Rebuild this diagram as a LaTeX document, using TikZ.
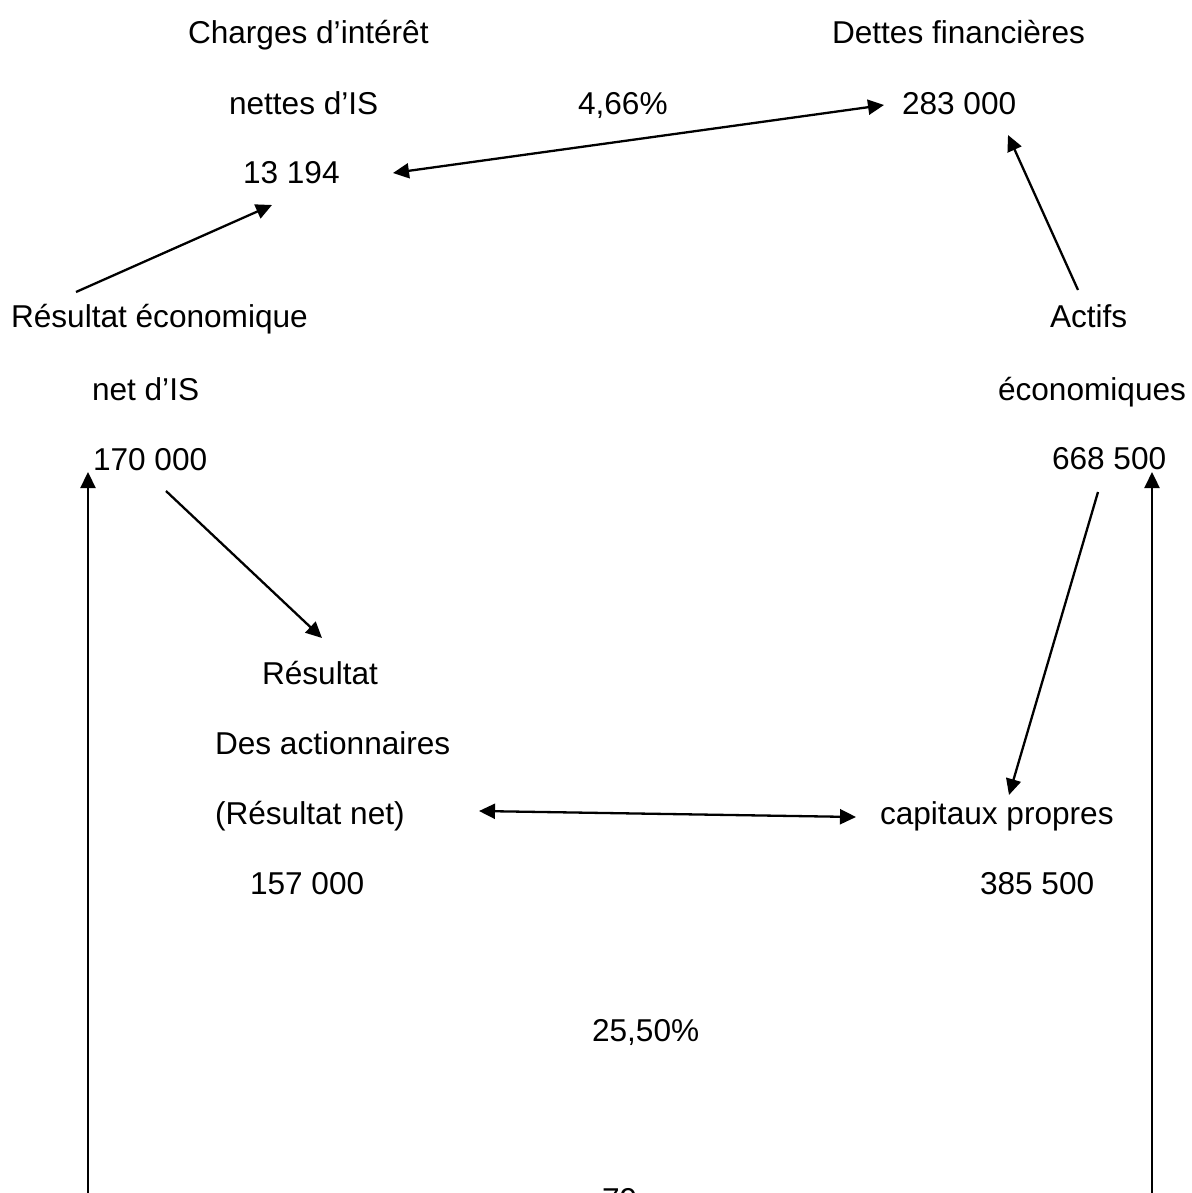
\documentclass[tikz,border=0pt]{standalone}
\usepackage{fontspec}
\setmainfont{Liberation Sans}
\usetikzlibrary{arrows.meta}
\begin{document}
\begin{tikzpicture}[x=0.5pt,y=-0.5pt,
  lbl/.style={anchor=base west,inner sep=0pt,outer sep=0pt,font=\fontsize{15.8}{18}\selectfont},
  conn/.style={line width=1.15pt,-{Triangle[length=8pt,width=7.5pt]}},
  dconn/.style={line width=1.15pt,{Triangle[length=8pt,width=7.5pt]}-{Triangle[length=8pt,width=7.5pt]}}]
\useasboundingbox[fill=white] (0,0) rectangle (1192,1193);
% texts
\node[lbl] (t1) at (188,44) {Charges d’intérêt};
\node[lbl] (t2) at (229,114) {nettes d’IS};
\node[lbl] (t3) at (243,184) {13 194};
\node[lbl] (d1) at (832,44) {Dettes financières};
\node[lbl] (p1) at (578,114) {4,66\%};
\node[lbl] (d2) at (902,114) {283 000};
\node[lbl] (r1) at (11,327) {Résultat économique};
\node[lbl] (r2) at (92,400) {net d’IS};
\node[lbl] (r3) at (93,470) {170 000};
\node[lbl] (a1) at (1050,327) {Actifs};
\node[lbl] (a2) at (998,400) {économiques};
\node[lbl] (a3) at (1052,469) {668 500};
\node[lbl] (n1) at (262,684) {Résultat};
\node[lbl] (n2) at (215,754) {Des actionnaires};
\node[lbl] (n3) at (215,824) {(Résultat net)};
\node[lbl] (n4) at (250,894) {157 000};
\node[lbl] (c1) at (880,824) {capitaux propres};
\node[lbl] (c2) at (980,894) {385 500};
\node[lbl] (p2) at (592,1041) {25,50\%};
\node[lbl] (pg) at (602,1210) {79};
% connector ends
\coordinate (e1a) at (76,292);   \coordinate (e1b) at (272,205);
\coordinate (e2a) at (393,173);  \coordinate (e2b) at (884,105);
\coordinate (e3a) at (1078,290); \coordinate (e3b) at (1008,135);
\coordinate (e4a) at (166,491);  \coordinate (e4b) at (322,638);
\coordinate (e5a) at (1098,492); \coordinate (e5b) at (1009,795);
\coordinate (e6a) at (479,811);  \coordinate (e6b) at (856,817);
\coordinate (v1a) at (88,1205);  \coordinate (v1b) at (88,472);
\coordinate (v2a) at (1152,1205);\coordinate (v2b) at (1152,472);
% connectors
\draw[conn] (e1a) -- (e1b);
\draw[dconn] (e2a) -- (e2b);
\draw[conn] (e3a) -- (e3b);
\draw[conn] (e4a) -- (e4b);
\draw[conn] (e5a) -- (e5b);
\draw[dconn] (e6a) -- (e6b);
\draw[conn] (v1a) -- (v1b);
\draw[conn] (v2a) -- (v2b);
\end{tikzpicture}
\end{document}
